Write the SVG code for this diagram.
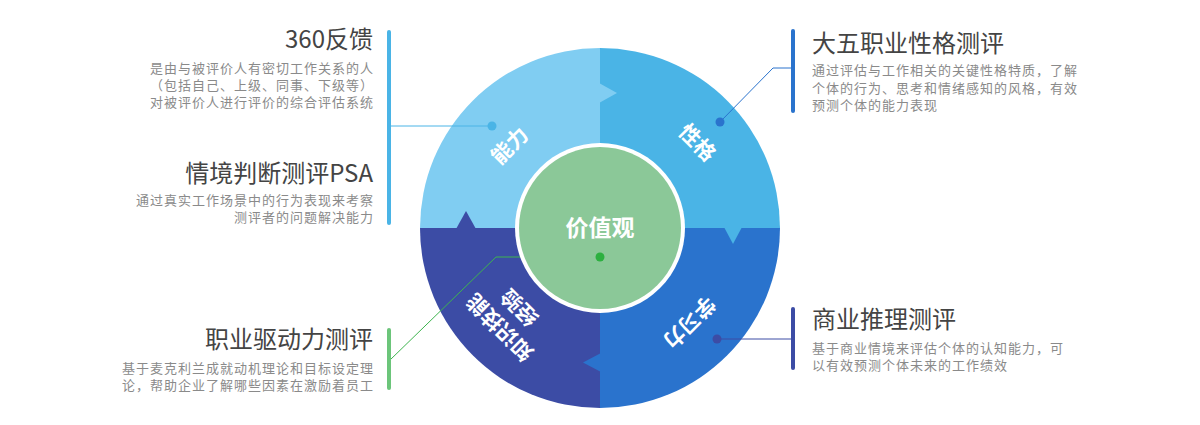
<svg xmlns="http://www.w3.org/2000/svg" width="1200" height="425" viewBox="0 0 1200 425">
<style>
.h{font-family:"Noto Sans CJK SC","Liberation Sans",sans-serif;font-size:24px;fill:#444;}
.d{font-family:"Noto Sans CJK SC","Liberation Sans",sans-serif;font-size:13px;letter-spacing:1px;fill:#8a8a8a;}
.r{text-anchor:end;}
.q{font-family:"Noto Sans CJK SC","Liberation Sans",sans-serif;font-size:21px;font-weight:bold;fill:#fff;text-anchor:middle;}
.c{fill:none;stroke-width:1;}
</style>
<rect width="1200" height="425" fill="#fff"/>
<g id="wheel">
<path d="M600,228 L420,228 A180,180 0 0 1 600,48 Z" fill="#80CDF2"/>
<path d="M600,228 L600,48 A180,180 0 0 1 780,228 Z" fill="#4AB4E6"/>
<path d="M600,228 L780,228 A180,180 0 0 1 600,408 Z" fill="#2A73CD"/>
<path d="M600,228 L600,408 A180,180 0 0 1 420,228 Z" fill="#3C4CA5"/>
<polygon points="599,83 617,93 599,103" fill="#80CDF2"/>
<polygon points="724,227 733,244 742,227" fill="#4AB4E6"/>
<polygon points="601,353 583,362.5 601,372" fill="#2A73CD"/>
<polygon points="456,229 466,211 476,229" fill="#3C4CA5"/>
</g>
<g id="connectors">
<polyline class="c" points="390,126 492,126" stroke="#4AB4E6"/>
<polyline class="c" points="720,122 773,68 793,68" stroke="#2A73CD"/>
<polyline class="c" points="717,339 793,339" stroke="#3C4CA5"/>
<polyline class="c" points="600,257 496,257 390,360" stroke="#3DB44E"/>
</g>
<g id="center">
<circle cx="600" cy="228" r="85" fill="#fff"/>
<circle cx="600" cy="228" r="81" fill="#8BC898"/>
<text x="600" y="236" class="q" style="font-size:23px">价值观</text>
</g>
<g id="dots">
<circle cx="492" cy="126" r="4.5" fill="#4AB4E6"/>
<circle cx="720" cy="122" r="4.5" fill="#2A73CD"/>
<circle cx="717" cy="339" r="4.5" fill="#3C4CA5"/>
<circle cx="600" cy="257" r="4.5" fill="#2DB040"/>
</g>
<g id="q-ability"><text class="q" transform="translate(510,146) rotate(-45)" y="7">能力</text></g>
<g id="q-personality"><text class="q" transform="translate(697,143) rotate(45)" y="7">性格</text></g>
<g id="q-learning"><text class="q" transform="translate(689,322) rotate(135)" y="7">学习力</text></g>
<g id="q-knowledge"><text class="q" transform="translate(510,317) rotate(225)"><tspan x="0" y="-7">知识技能</tspan><tspan x="0" y="21">经验</tspan></text></g>
<g id="bars">
<rect x="387" y="30" width="4" height="195" rx="2" fill="#4AB4E6"/>
<rect x="387" y="328" width="4" height="62" rx="2" fill="#6CC57A"/>
<rect x="791" y="29" width="4" height="84" rx="2" fill="#2A73CD"/>
<rect x="791" y="307" width="4" height="63" rx="2" fill="#3C4CA5"/>
</g>
<g id="n-360">
<text class="h r" x="373" y="48">360反馈</text>
<text class="d r" x="374" y="73">是由与被评价人有密切工作关系的人</text>
<text class="d r" x="374" y="90">（包括自己、上级、同事、下级等）</text>
<text class="d r" x="374" y="107">对被评价人进行评价的综合评估系统</text>
</g>
<g id="n-psa">
<text class="h r" x="373" y="182">情境判断测评PSA</text>
<text class="d r" x="374" y="205">通过真实工作场景中的行为表现来考察</text>
<text class="d r" x="374" y="222">测评者的问题解决能力</text>
</g>
<g id="n-drive">
<text class="h r" x="373" y="348">职业驱动力测评</text>
<text class="d r" x="374" y="373">基于麦克利兰成就动机理论和目标设定理</text>
<text class="d r" x="374" y="390">论，帮助企业了解哪些因素在激励着员工</text>
</g>
<g id="n-bigfive">
<text class="h" x="812" y="52">大五职业性格测评</text>
<text class="d" x="812" y="75">通过评估与工作相关的关键性格特质，了解</text>
<text class="d" x="812" y="93">个体的行为、思考和情绪感知的风格，有效</text>
<text class="d" x="812" y="110">预测个体的能力表现</text>
</g>
<g id="n-business">
<text class="h" x="812" y="328">商业推理测评</text>
<text class="d" x="812" y="353">基于商业情境来评估个体的认知能力，可</text>
<text class="d" x="812" y="370">以有效预测个体未来的工作绩效</text>
</g>
</svg>
